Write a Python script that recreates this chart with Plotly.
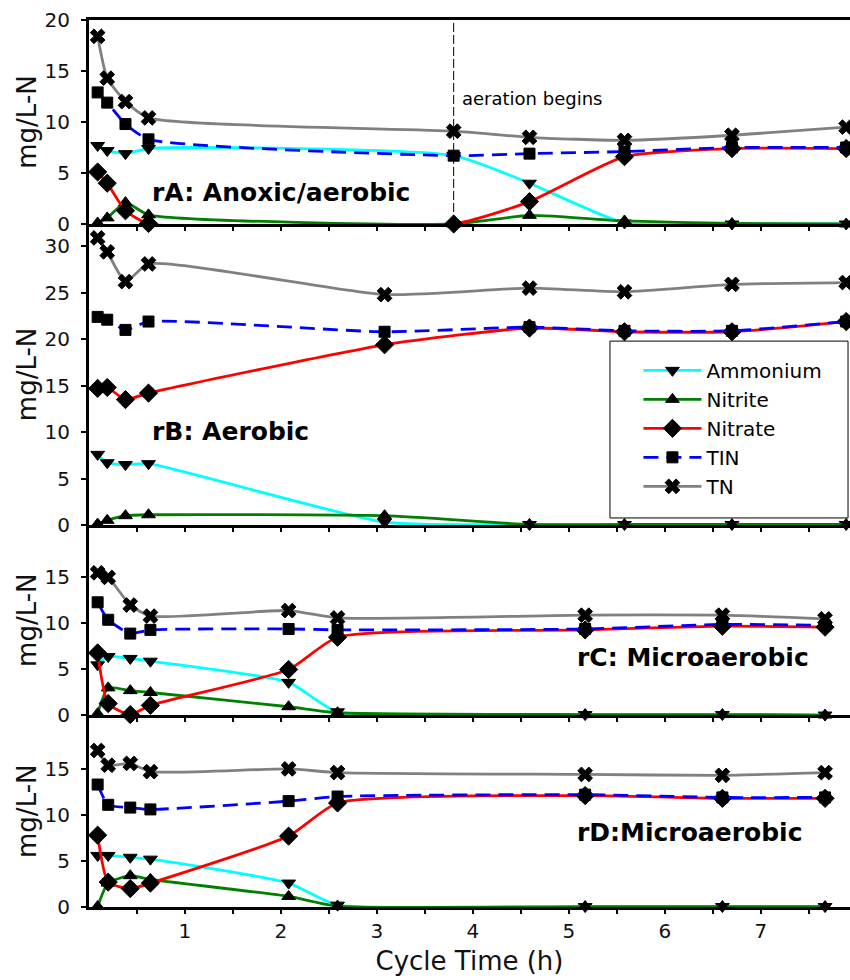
import plotly.graph_objects as go

# ---- sampling times (h) ----
time_A = [0.09, 0.19, 0.38, 0.62, 3.80, 4.59, 5.58, 6.70, 7.89]
time_B = [0.09, 0.19, 0.38, 0.62, 3.08, 4.59, 5.58, 6.70, 7.89]
time_C = [0.09, 0.20, 0.43, 0.64, 2.08, 2.59, 5.17, 6.60, 7.67]
time_D = [0.09, 0.20, 0.43, 0.64, 2.08, 2.59, 5.17, 6.60, 7.67]

# ---- rA: anoxic/aerobic (mg/L-N) ----
ammonium_A = [7.7, 7.2, 6.9, 7.4, 6.7, 4.0, 0.1, 0.0, 0.0]
nitrite_A = [0.1, 0.6, 2.1, 0.9, 0.0, 0.85, 0.3, 0.05, 0.0]
nitrate_A = [5.1, 4.0, 1.3, 0.05, 0.0, 2.2, 6.6, 7.4, 7.4]
tin_A = [12.9, 11.9, 9.8, 8.3, 6.7, 6.9, 7.1, 7.5, 7.5]
tn_A = [18.4, 14.3, 12.0, 10.4, 9.1, 8.5, 8.2, 8.7, 9.5]

# ---- rB: aerobic ----
ammonium_B = [7.6, 6.7, 6.5, 6.6, 0.3, 0.05, 0.05, 0.05, 0.05]
nitrite_B = [0.1, 0.5, 1.0, 1.1, 1.0, 0.05, 0.05, 0.05, 0.05]
nitrate_B = [14.7, 14.8, 13.5, 14.2, 19.4, 21.2, 20.8, 20.8, 21.9]
tin_B = [22.4, 22.1, 21.0, 21.9, 20.8, 21.3, 20.9, 20.9, 21.9]
tn_B = [30.9, 29.4, 26.2, 28.1, 24.8, 25.5, 25.1, 25.9, 26.1]

# ---- rC: microaerobic ----
ammonium_C = [5.5, 6.4, 6.2, 5.9, 3.6, 0.4, 0.1, 0.1, 0.05]
nitrite_C = [0.2, 3.0, 2.7, 2.5, 0.95, 0.3, 0.1, 0.1, 0.05]
nitrate_C = [6.8, 1.3, 0.1, 1.1, 5.0, 8.5, 9.3, 9.7, 9.6]
tin_C = [12.3, 10.4, 8.9, 9.3, 9.4, 9.3, 9.4, 9.9, 9.8]
tn_C = [15.5, 15.0, 12.0, 10.8, 11.4, 10.6, 10.9, 10.9, 10.5]

# ---- rD: microaerobic ----
ammonium_D = [5.6, 5.6, 5.4, 5.2, 2.6, 0.2, 0.05, 0.05, 0.05]
nitrite_D = [0.05, 2.6, 3.4, 3.0, 1.15, 0.1, 0.05, 0.05, 0.05]
nitrate_D = [7.8, 2.7, 2.0, 2.6, 7.7, 11.3, 12.1, 11.8, 11.8]
tin_D = [13.3, 11.1, 10.8, 10.6, 11.5, 12.0, 12.2, 11.9, 11.9]
tn_D = [17.0, 15.4, 15.6, 14.7, 15.0, 14.6, 14.4, 14.3, 14.6]

aeration_time = 3.8

panel_labels = ["rA: Anoxic/aerobic", "rB: Aerobic", "rC: Microaerobic", "rD:Microaerobic"]
series_names = ["Ammonium", "Nitrite", "Nitrate", "TIN", "TN"]

x_tick_vals = [0.5, 1, 1.5, 2, 2.5, 3, 3.5, 4, 4.5, 5, 5.5, 6, 6.5, 7, 7.5]
x_tick_text = ["", "1", "", "2", "", "3", "", "4", "", "5", "", "6", "", "7", ""]
y_ticks_A = [0, 5, 10, 15, 20]
y_ticks_B = [0, 5, 10, 15, 20, 25, 30]
y_ticks_C = [0, 5, 10, 15]
y_ticks_D = [0, 5, 10, 15]

FONT = "DejaVu Sans"

styles = {
    "Ammonium": dict(color="#00FFFF", dash="solid", symbol="triangle-down", size=12),
    "Nitrite": dict(color="#008000", dash="solid", symbol="triangle-up", size=12),
    "Nitrate": dict(color="#FF0000", dash="solid", symbol="diamond", size=14),
    "TIN": dict(color="#0000FF", dash="15px,8px", symbol="square", size=11),
    "TN": dict(color="#808080", dash="solid", symbol="x", size=13),
}

panels = [
    (time_A, [ammonium_A, nitrite_A, nitrate_A, tin_A, tn_A], [0, 20], y_ticks_A, [0.7700, 1.0]),
    (time_B, [ammonium_B, nitrite_B, nitrate_B, tin_B, tn_B], [0, 32.4], y_ticks_B, [0.4307, 0.7700]),
    (time_C, [ammonium_C, nitrite_C, nitrate_C, tin_C, tn_C], [0, 20.7], y_ticks_C, [0.2159, 0.4307]),
    (time_D, [ammonium_D, nitrite_D, nitrate_D, tin_D, tn_D], [0, 20.8], y_ticks_D, [0.0, 0.2159]),
]

fig = go.Figure()

for i, (t, series, yr, yt, dom) in enumerate(panels):
    k = "" if i == 0 else str(i + 1)
    for name, vals in zip(series_names, series):
        st = styles[name]
        fig.add_trace(go.Scatter(
            x=t, y=vals, name=name, mode="lines+markers",
            xaxis="x" + k, yaxis="y" + k,
            line=dict(color=st["color"], width=2.8, dash=st["dash"], shape="spline", smoothing=0.55),
            marker=dict(symbol=st["symbol"], size=st["size"], color="black",
                        line=dict(color="black", width=1)),
            cliponaxis=False,
            legendgroup=name, showlegend=(i == 1),
        ))

    last = i == 3
    fig.update_layout({
        "xaxis" + k: dict(
            domain=[0, 1], anchor="y" + k, range=[0, 7.93],
            showline=True, linecolor="black", linewidth=3, mirror=(i == 0),
            ticks="outside", ticklen=4, tickwidth=2, tickcolor="black",
            tickvals=x_tick_vals, ticktext=x_tick_text if last else [""] * len(x_tick_vals),
            showgrid=False, zeroline=False,
            tickfont=dict(family=FONT, size=20, color="#111"),
            title=dict(text="Cycle Time (h)" if last else "",
                       font=dict(family=FONT, size=26, color="#111"), standoff=10),
        ),
        "yaxis" + k: dict(
            domain=dom, anchor="x" + k, range=yr,
            showline=True, linecolor="black", linewidth=3,
            ticks="outside", ticklen=5, tickwidth=2, tickcolor="black",
            tickvals=yt, showgrid=False, zeroline=False,
            ticklabelstandoff=7,
            tickfont=dict(family=FONT, size=20, color="#111"),
            title=dict(text="mg/L-N", font=dict(family=FONT, size=26, color="#111"), standoff=1),
        ),
    })

# panel captions
label_pos = [(0.635, 3.1), (0.635, 10.1), (5.06, 6.25), (5.06, 8.1)]
for i, (txt, (lx, ly)) in enumerate(zip(panel_labels, label_pos)):
    k = "" if i == 0 else str(i + 1)
    fig.add_annotation(text="<b>" + txt + "</b>", x=lx, y=ly, xref="x" + k, yref="y" + k,
                       xanchor="left", yanchor="middle", showarrow=False,
                       font=dict(family=FONT, size=25, color="black"))

# aeration marker in rA
fig.add_shape(type="line", xref="x", yref="y domain", x0=aeration_time, x1=aeration_time,
              y0=0, y1=1, line=dict(color="black", width=1, dash="9px,3px"))
fig.add_annotation(text="aeration begins", x=aeration_time + 0.07, y=12.35, xref="x", yref="y",
                   xanchor="left", yanchor="middle", showarrow=False,
                   font=dict(family=FONT, size=18, color="black"))

# legend frame
fig.add_shape(type="rect", xref="paper", yref="paper", x0=0.6846, x1=0.9974, y0=0.4386, y1=0.638,
              line=dict(color="black", width=1), fillcolor="white", layer="below")

fig.update_layout(
    width=850, height=980,
    margin=dict(l=89, r=0, t=20, b=73),
    paper_bgcolor="white", plot_bgcolor="white",
    font=dict(family=FONT, color="#111"),
    legend=dict(x=0.722, y=0.627, xanchor="left", yanchor="top",
                bgcolor="rgba(0,0,0,0)", borderwidth=0,
                font=dict(family=FONT, size=20, color="black"),
                itemwidth=58, tracegroupgap=4, traceorder="normal"),
)

fig.write_html("out.html")
